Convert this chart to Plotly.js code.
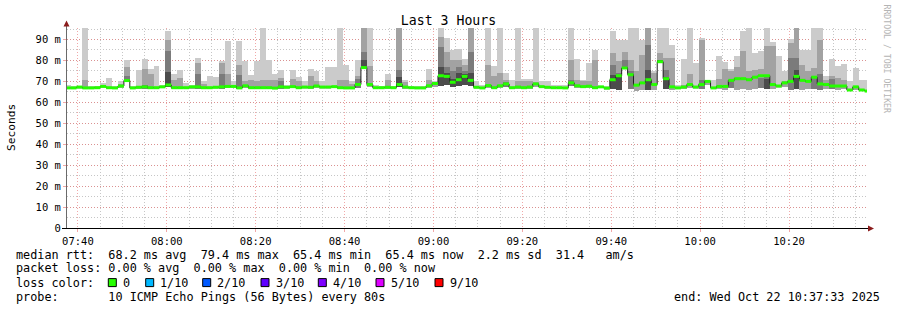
<!DOCTYPE html>
<html><head><meta charset="utf-8">
<script src="https://cdn.plot.ly/plotly-3.0.1.min.js"></script>
<style>html,body{margin:0;padding:0;background:#fff}#chart{width:897px;height:310px}</style>
</head><body><div id="chart"></div>
<script>
// ---- data (milliseconds) ----
const firstStep = Date.UTC(2025, 9, 22, 7, 37, 1);   // start of first 80 s probe step
const stepMs = 80000;
const rangeStart = '2025-10-22 07:37:33';
const rangeEnd = '2025-10-22 10:37:33';

const median = [66.9,66.9,67.3,66.9,66.9,67.0,67.6,67.0,66.9,67.8,
 70.4,66.9,67.2,67.4,67.0,67.0,67.4,68.3,67.0,67.0,
 67.0,67.4,67.4,67.0,67.0,67.2,67.4,67.6,67.6,66.9,
 67.9,67.0,67.0,67.0,67.0,66.8,67.4,67.2,67.5,67.0,
 67.3,67.2,67.8,67.3,67.3,67.5,67.0,66.9,66.9,68.5,
 76.6,68.5,67.0,67.0,67.2,67.0,68.5,67.3,67.0,66.9,
 66.9,67.9,69.0,72.7,72.4,69.6,70.8,72.4,70.5,67.2,
 66.9,68.0,67.0,67.9,68.8,67.0,67.3,67.0,67.3,68.8,
 67.5,67.2,67.0,67.0,66.9,69.3,67.9,67.5,67.7,67.0,
 67.4,66.8,70.8,72.7,76.4,73.2,68.2,69.3,70.8,68.5,
 79.4,71.3,67.4,66.9,67.3,68.5,67.3,68.5,70.0,66.9,
 67.6,67.6,70.5,71.3,71.3,70.8,72.0,72.7,72.7,68.5,
 67.8,69.3,70.0,72.4,70.5,70.0,72.0,68.8,68.5,67.8,
 67.8,67.8,65.9,67.4,65.9,65.4];

const minPing = [66.3,66.3,66.5,66.3,66.3,66.4,66.7,66.4,66.3,66.8,
 69.5,66.3,66.5,66.6,66.4,66.4,66.7,67.2,66.4,66.4,
 66.4,66.6,66.6,66.4,66.4,66.5,66.6,66.8,66.8,66.3,
 67.0,66.4,66.4,66.4,66.4,66.2,66.6,66.5,66.7,66.4,
 66.6,66.5,66.9,66.6,66.6,66.8,66.4,66.3,66.3,67.0,
 76.0,67.5,66.4,66.4,66.5,66.4,67.2,66.6,66.4,66.3,
 66.3,67.0,67.5,68.0,68.5,67.5,68.0,68.5,67.8,66.5,
 66.3,67.0,66.4,67.0,67.5,66.4,66.6,66.4,66.6,67.5,
 66.8,66.5,66.4,66.4,66.3,67.8,67.0,66.8,66.9,66.3,
 66.7,66.1,66.5,66.0,76.0,66.5,65.5,66.0,66.0,65.8,
 79.0,66.5,66.0,66.2,66.5,66.8,66.5,66.5,68.5,66.2,
 66.5,66.0,66.8,66.0,66.3,66.0,66.5,66.8,66.5,66.5,
 66.8,67.5,66.0,66.5,66.0,66.5,66.5,66.0,66.5,66.3,
 66.0,66.5,65.2,66.0,65.2,64.8];

const maxPing = [68.5,68.0,68.0,95.7,68.0,68.0,69.4,71.8,67.6,70.0,
 80.0,68.0,75.6,80.7,76.1,77.5,68.5,94.3,73.3,75.6,
 69.3,68.5,81.3,70.3,72.4,72.3,79.6,89.4,70.0,89.4,
 79.6,73.2,79.8,95.7,80.0,73.4,75.3,68.5,75.3,72.1,
 70.4,75.9,74.8,70.0,76.8,76.8,95.7,77.6,70.4,80.1,
 95.7,95.7,68.5,68.0,73.7,67.7,95.7,70.8,68.0,67.6,
 67.6,75.9,70.0,95.7,90.5,85.0,85.5,80.5,95.7,70.0,
 68.5,95.7,77.2,95.7,73.8,70.8,95.7,71.2,71.2,95.7,
 70.0,70.0,68.5,68.5,68.5,95.7,80.9,70.8,78.8,85.2,
 68.0,68.0,94.3,90.0,90.0,95.7,95.7,90.0,95.7,75.0,
 95.7,95.7,87.6,68.5,80.6,95.7,78.9,90.8,70.8,70.8,
 82.3,79.4,75.8,82.3,94.0,95.7,83.6,84.4,95.7,88.7,
 82.3,74.8,90.3,95.7,85.2,85.2,95.7,95.7,72.4,80.6,
 77.2,78.1,70.0,76.3,70.8,70.8];

const smoke2 = [null,null,null,70.8,null,null,null,null,null,69.0,
 77.0,null,68.0,76.1,73.7,null,68.0,90.0,70.5,71.8,
 null,68.0,78.8,69.0,null,null,79.0,73.4,null,77.6,
 70.0,70.5,70.0,70.5,70.8,70.5,71.4,null,71.0,70.4,
 null,72.4,70.4,null,null,null,70.8,70.8,69.0,72.4,
 95.7,77.2,null,null,70.8,null,95.7,69.8,null,null,
 null,70.8,69.5,91.3,84.0,80.0,80.0,78.0,95.7,null,
 null,78.0,72.4,73.8,70.8,null,70.0,70.0,70.0,69.5,
 null,null,null,null,null,80.1,70.8,70.0,70.0,80.1,
 null,null,83.6,79.6,84.0,80.0,75.0,82.6,95.7,74.0,
 83.6,81.0,81.0,null,68.5,73.5,null,90.0,70.3,null,
 71.2,75.8,75.0,76.8,84.6,75.0,75.3,76.0,86.8,87.0,
 null,70.0,88.4,95.7,77.9,74.8,76.3,90.0,70.8,72.4,
 71.5,70.8,null,67.8,null,null];

const smoke3 = [null,null,null,null,null,null,null,null,null,null,
 72.7,null,null,68.5,null,null,null,84.3,null,null,
 null,null,73.4,null,null,null,73.4,null,null,73.2,
 null,null,null,null,null,null,70.0,null,null,null,
 null,null,null,null,null,null,null,null,null,71.0,
 84.0,null,null,null,null,null,75.3,null,null,null,
 null,null,null,86.5,77.0,75.0,77.0,75.0,84.0,null,
 null,null,null,null,69.5,null,null,null,null,null,
 null,null,null,null,null,70.5,null,null,null,null,
 null,null,78.0,74.0,80.0,75.0,null,null,87.5,null,
 80.0,75.5,null,null,null,null,null,70.5,null,null,
 null,null,70.8,null,null,null,null,71.5,72.0,null,
 null,null,81.0,81.0,null,null,72.4,73.5,null,71.0,
 null,null,null,null,null,null];

const smoke4 = [null,null,null,null,null,null,null,null,null,null,
 70.8,null,null,null,null,null,null,74.3,null,null,
 null,null,null,null,null,null,null,null,null,null,
 null,null,null,null,null,null,null,null,null,null,
 null,null,null,null,null,null,null,null,null,null,
 80.0,null,null,null,null,null,72.0,null,null,null,
 null,null,null,77.0,74.0,71.0,74.0,73.5,74.0,null,
 null,null,null,null,null,null,null,null,null,null,
 null,null,null,null,null,null,null,null,null,null,
 null,null,73.0,72.5,77.0,null,null,null,75.5,null,
 80.0,72.0,null,null,null,null,null,null,null,null,
 null,null,null,null,null,null,null,null,71.0,null,
 null,null,null,75.3,null,null,null,null,null,null,
 null,null,null,null,null,null];

const yTickVals = [0, 10, 20, 30, 40, 50, 60, 70, 80, 90];
const yTickText = ['0', '10 m', '20 m', '30 m', '40 m', '50 m', '60 m', '70 m', '80 m', '90 m'];
const lossLabels = ['0', '1/10', '2/10', '3/10', '4/10', '5/10', '9/10'];
const lossColors = ['#26ff00', '#00b8ff', '#0059ff', '#5e00ff', '#7e00ff', '#dd00ff', '#ff0000'];
const statLines = [
  'median rtt:  68.2 ms avg  79.4 ms max  65.4 ms min  65.4 ms now  2.2 ms sd  31.4   am/s',
  'packet loss: 0.00 % avg  0.00 % max  0.00 % min  0.00 % now',
  'loss color:',
  'probe:       10 ICMP Echo Pings (56 Bytes) every 80s'
];
const endText = 'end: Wed Oct 22 10:37:33 2025';

// ---- build ----
const FONT = 'DejaVu Sans Mono, monospace';
const fmt = t => new Date(t).toISOString().replace('T', ' ').slice(0, 19);
const n = median.length;
const starts = median.map((_, i) => fmt(firstStep + i * stepMs));
const ends = median.map((_, i) => fmt(firstStep + (i + 1) * stepMs));

const smokeLayers = [
  {top: maxPing, color: '#cbcbcb'},
  {top: smoke2, color: '#a2a2a2'},
  {top: smoke3, color: '#7b7b7b'},
  {top: smoke4, color: '#4c4c4c'}
];
const traces = smokeLayers.map(l => ({
  type: 'bar', x: starts, base: minPing,
  y: l.top.map((v, i) => v == null ? null : v - minPing[i]),
  width: stepMs, offset: 0,
  marker: {color: l.color, line: {width: 0}},
  hoverinfo: 'skip'
}));

// thin dark median step line
traces.push({
  type: 'scatter', mode: 'lines',
  x: starts.concat([ends[n - 1]]), y: median.concat([median[n - 1]]),
  line: {shape: 'hv', color: '#202020', width: 1}, hoverinfo: 'skip'
});
// loss-coloured median band
const gx = [], gy = [];
for (let i = 0; i < n; i++) { gx.push(starts[i], ends[i], null); gy.push(median[i], median[i], null); }
traces.push({
  type: 'scatter', mode: 'lines', x: gx, y: gy,
  line: {color: lossColors[0], width: 3}, hoverinfo: 'skip'
});

// pixel helpers (plot area: x 67..867, y 28..228)
const PL = 67, PW = 800, PB = 228, PH = 200;
const px = x => (x - PL) / PW;
const py = y => (PB - y) / PH;
const nb = s => s.replace(/ /g, '\u00a0');

const annotations = [];
const txt = (x, y, text, opt) => annotations.push(Object.assign({
  xref: 'paper', yref: 'paper', x: px(x), y: py(y), text: nb(text), showarrow: false,
  xanchor: 'left', yanchor: 'middle', borderpad: 0,
  font: {family: FONT, size: 11.8, color: '#000'}
}, opt || {}));

const rowY = [254.6, 268.4, 282.6, 296.6];
statLines.forEach((s, i) => txt(14.5, rowY[i], s));
txt(880.5, rowY[3], endText, {xanchor: 'right'});

const boxX = [108.3, 145.7, 202.7, 261, 318.3, 376, 435];
const shapes = [];
lossLabels.forEach((lab, i) => {
  shapes.push({type: 'rect', xref: 'paper', yref: 'paper',
    x0: px(boxX[i]), x1: px(boxX[i] + 8), y0: py(286.6), y1: py(278.6),
    fillcolor: lossColors[i], line: {color: '#000', width: 1}});
  txt(boxX[i] + 13.5, rowY[2], lab);
});

txt(11, 127, 'Seconds', {xanchor: 'center', textangle: -90, font: {family: FONT, size: 11.2, color: '#000'}});
txt(886.5, 59, 'RRDTOOL / TOBI OETIKER', {xanchor: 'center', textangle: 90, font: {family: FONT, size: 8.2, color: '#b4b4b4'}});

// axis lines and arrow heads
shapes.push({type: 'line', xref: 'paper', yref: 'paper', x0: px(66.5), x1: px(66.5), y0: py(228.5), y1: py(25),
  line: {color: '#6a6a6a', width: 1}, layer: 'above'});
shapes.push({type: 'line', xref: 'paper', yref: 'paper', x0: px(62), x1: px(869), y0: py(228.5), y1: py(228.5),
  line: {color: '#000', width: 1}, layer: 'above'});
shapes.push({type: 'path', xref: 'paper', yref: 'paper',
  path: `M ${px(63.5)} ${py(26.5)} L ${px(69.5)} ${py(26.5)} L ${px(66.5)} ${py(20.5)} Z`,
  fillcolor: '#8b1c1c', line: {width: 0}, layer: 'above'});
shapes.push({type: 'path', xref: 'paper', yref: 'paper',
  path: `M ${px(868)} ${py(225.5)} L ${px(868)} ${py(231.5)} L ${px(874)} ${py(228.5)} Z`,
  fillcolor: '#8b1c1c', line: {width: 0}, layer: 'above'});

const majorGrid = 'rgba(232,110,110,0.6)';
const minorGrid = '#c6c6c6';
const gridDash = '1px,2px';

const layout = {
  width: 897, height: 310,
  margin: {l: PL, r: 897 - PL - PW, t: PB - PH, b: 310 - PB},
  paper_bgcolor: '#ffffff', plot_bgcolor: '#ffffff',
  showlegend: false, hovermode: false, barmode: 'overlay', bargap: 0,
  font: {family: FONT, color: '#000'},
  title: {text: 'Last 3 Hours', font: {family: FONT, size: 13.2, color: '#000'},
    x: 0.5, xref: 'container', xanchor: 'center', y: 1 - 20 / 310, yref: 'container', yanchor: 'middle'},
  xaxis: {
    type: 'date', range: [rangeStart, rangeEnd], tickformat: '%H:%M', dtick: 1200000,
    ticks: 'outside', ticklen: 3, tickcolor: majorGrid, tickfont: {family: FONT, size: 10.5, color: '#000'},
    showgrid: true, gridcolor: majorGrid, griddash: gridDash, gridwidth: 1,
    minor: {dtick: 300000, showgrid: true, gridcolor: minorGrid, griddash: gridDash, gridwidth: 1},
    showline: false, zeroline: false, fixedrange: true
  },
  yaxis: {
    range: [0, 95.5], tickvals: yTickVals, ticktext: yTickText,
    ticks: 'outside', ticklen: 3, tickcolor: majorGrid, tickfont: {family: FONT, size: 10.5, color: '#000'},
    showgrid: true, gridcolor: majorGrid, griddash: gridDash, gridwidth: 1,
    minor: {dtick: 5, showgrid: true, gridcolor: minorGrid, griddash: gridDash, gridwidth: 1},
    showline: false, zeroline: false, fixedrange: true
  },
  annotations: annotations,
  shapes: shapes
};

Plotly.newPlot('chart', traces, layout, {staticPlot: true, displayModeBar: false});
</script>
</body></html>
